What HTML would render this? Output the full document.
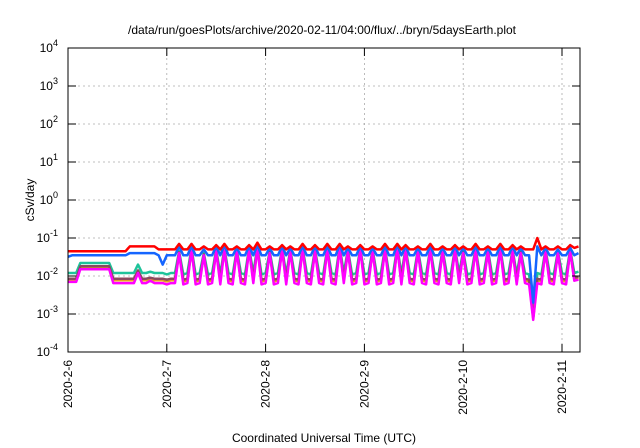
<!DOCTYPE html>
<html><head><meta charset="utf-8"><style>
body{margin:0;background:#fff;}
svg{display:block;font-family:"Liberation Sans",sans-serif;}
</style></head><body>
<svg id="chart" width="640" height="448" viewBox="0 0 640 448">
<text x="322" y="34" font-size="12" text-anchor="middle">/data/run/goesPlots/archive/2020-02-11/04:00/flux/../bryn/5daysEarth.plot</text>
<text transform="translate(34,200) rotate(-90)" font-size="12" text-anchor="middle">cSv/day</text>
<text x="324" y="442" font-size="12" text-anchor="middle">Coordinated Universal Time (UTC)</text>
<g id="grid"></g><g id="series"></g><g id="axes"></g>
</svg>
<script>
const yTickExps=[4,3,2,1,0,-1,-2,-3,-4];
const xTickLabels=["2020-2-6","2020-2-7","2020-2-8","2020-2-9","2020-2-10","2020-2-11"];
const stepDays=1/24;
const seriesRed=[.045,.045,.045,.045,.045,.045,.045,.045,.045,.045,
.045,.045,.045,.045,.045,.06,.06,.06,.06,.06,
.06,.06,.05,.05,.05,.05,.05,.07,.05,.05,
.07,.05,.05,.06,.05,.05,.065,.05,.07,.05,
.05,.06,.05,.05,.065,.05,.075,.05,.05,.06,
.05,.05,.065,.05,.06,.05,.05,.07,.05,.05,
.065,.05,.05,.07,.05,.05,.07,.05,.06,.05,
.05,.065,.05,.05,.06,.05,.05,.07,.05,.05,
.07,.05,.065,.05,.05,.06,.05,.05,.07,.05,
.05,.06,.05,.05,.065,.05,.06,.05,.05,.07,
.05,.05,.06,.05,.05,.07,.05,.05,.065,.05,
.06,.05,.05,.05,.1,.05,.06,.05,.05,.06,
.05,.05,.065,.055,.06];
const seriesBlue=[.032,.035,.035,.035,.035,.035,.035,.035,.035,.035,
.035,.035,.035,.035,.035,.04,.04,.04,.04,.04,
.04,.04,.035,.02,.035,.035,.035,.06,.035,.035,
.06,.035,.035,.05,.035,.035,.06,.035,.065,.035,
.035,.055,.035,.035,.06,.035,.065,.035,.035,.055,
.035,.035,.06,.035,.055,.035,.035,.06,.035,.035,
.06,.035,.035,.06,.035,.035,.065,.035,.055,.035,
.035,.06,.035,.035,.055,.035,.035,.06,.035,.035,
.065,.035,.06,.035,.035,.055,.035,.035,.06,.035,
.035,.055,.035,.035,.06,.035,.055,.035,.035,.06,
.035,.035,.055,.035,.035,.06,.035,.035,.06,.035,
.055,.035,.035,.002,.06,.035,.055,.035,.035,.05,
.035,.035,.055,.035,.04];
const seriesGreen=[.012,.012,.012,.022,.022,.022,.022,.022,.022,.022,
.022,.012,.012,.012,.012,.012,.012,.02,.012,.012,
.013,.012,.012,.012,.011,.012,.012,.045,.011,.012,
.055,.011,.012,.04,.011,.012,.05,.011,.055,.012,
.011,.05,.012,.011,.055,.012,.06,.011,.012,.045,
.011,.012,.055,.011,.05,.012,.011,.055,.012,.011,
.05,.012,.011,.055,.012,.011,.06,.012,.05,.011,
.012,.055,.011,.012,.05,.011,.012,.055,.011,.012,
.06,.011,.055,.012,.011,.05,.012,.011,.055,.012,
.011,.05,.012,.011,.055,.012,.045,.011,.012,.055,
.011,.012,.05,.011,.012,.055,.011,.012,.05,.011,
.045,.012,.011,.001,.012,.011,.05,.012,.011,.045,
.012,.011,.05,.012,.013];
const seriesBrown=[.0085,.0085,.0085,.018,.018,.018,.018,.018,.018,.018,
.018,.0085,.0085,.0085,.0085,.0085,.0085,.014,.0085,.0085,
.009,.0085,.0085,.0085,.008,.0085,.0085,.042,.008,.0085,
.052,.008,.0085,.037,.008,.0085,.047,.008,.052,.0085,
.008,.047,.0085,.008,.052,.0085,.057,.008,.0085,.042,
.008,.0085,.052,.008,.047,.0085,.008,.052,.0085,.008,
.047,.0085,.008,.052,.0085,.008,.057,.0085,.047,.008,
.0085,.052,.008,.0085,.047,.008,.0085,.052,.008,.0085,
.057,.008,.052,.0085,.008,.047,.0085,.008,.052,.0085,
.008,.047,.0085,.008,.052,.0085,.042,.008,.0085,.052,
.008,.0085,.047,.008,.0085,.052,.008,.0085,.047,.008,
.042,.0085,.008,.0008,.0085,.008,.047,.0085,.008,.042,
.0085,.008,.047,.009,.0095];
const seriesOrange=[.0077,.0077,.0077,.016,.016,.016,.016,.016,.016,.016,
.016,.0077,.0077,.0077,.0077,.0077,.0077,.013,.0077,.0077,
.008,.0077,.0077,.0077,.0072,.0077,.0077,.04,.0072,.0077,
.05,.0072,.0077,.035,.0072,.0077,.045,.0072,.05,.0077,
.0072,.045,.0077,.0072,.05,.0077,.055,.0072,.0077,.04,
.0072,.0077,.05,.0072,.045,.0077,.0072,.05,.0077,.0072,
.045,.0077,.0072,.05,.0077,.0072,.055,.0077,.045,.0072,
.0077,.05,.0072,.0077,.045,.0072,.0077,.05,.0072,.0077,
.055,.0072,.05,.0077,.0072,.045,.0077,.0072,.05,.0077,
.0072,.045,.0077,.0072,.05,.0077,.04,.0072,.0077,.05,
.0072,.0077,.045,.0072,.0077,.05,.0072,.0077,.045,.0072,
.04,.0077,.0072,.0008,.0077,.0072,.045,.0077,.0072,.04,
.0077,.0072,.045,.0082,.0088];
const seriesMagenta=[.007,.007,.007,.015,.015,.015,.015,.015,.015,.015,
.015,.0065,.0065,.0065,.0065,.0065,.0065,.012,.0065,.0065,
.0075,.0065,.0065,.0065,.006,.0065,.0065,.04,.006,.0065,
.05,.006,.0065,.035,.006,.0065,.045,.006,.05,.0065,
.006,.045,.0065,.006,.05,.0065,.055,.006,.0065,.04,
.006,.0065,.05,.006,.045,.0065,.006,.05,.0065,.006,
.045,.0065,.006,.05,.0065,.006,.055,.0065,.045,.006,
.0065,.05,.006,.0065,.045,.006,.0065,.05,.006,.0065,
.055,.006,.05,.0065,.006,.045,.0065,.006,.05,.0065,
.006,.045,.0065,.006,.05,.0065,.04,.006,.0065,.05,
.006,.0065,.045,.006,.0065,.05,.006,.0065,.045,.006,
.04,.0065,.006,.0007,.0065,.006,.045,.0065,.006,.04,
.0065,.006,.045,.0075,.008];
const L=68,R=580,T=48,B=352,dayPx=98.8,spanDays=(R-L)/dayPx;
const NS="http://www.w3.org/2000/svg";
function xs(d){return L+d*dayPx;}
function ys(v){return B-(Math.log10(v)+4)*(B-T)/8;}
function mk(tag,attrs,parent){const e=document.createElementNS(NS,tag);for(const k in attrs)e.setAttribute(k,attrs[k]);parent.appendChild(e);return e;}
const grid=document.getElementById('grid'),axes=document.getElementById('axes'),ser=document.getElementById('series');
yTickExps.forEach(ex=>{
  const y=ys(Math.pow(10,ex));
  if(ex>-4&&ex<4){const g=mk('line',{x1:L,x2:R,y1:y,y2:y,stroke:'#aaa','stroke-width':0.8,'stroke-dasharray':'2,3'},grid);
  
  }
  mk('line',{x1:L,x2:L+8,y1:y,y2:y,stroke:'#000'},axes);
  mk('line',{x1:R-8,x2:R,y1:y,y2:y,stroke:'#000'},axes);
  const t=mk('text',{x:58,y:y+4,'font-size':12,'text-anchor':'end'},axes);
  
  
  t.innerHTML='10<tspan dy="-6" font-size="9">'+ex+'</tspan>';
});
xTickLabels.forEach((lab,i)=>{
  const x=xs(i);
  if(i>0){const g=mk('line',{x1:x,x2:x,y1:T,y2:B,stroke:'#aaa','stroke-width':0.8,'stroke-dasharray':'2,3'},grid);
  
  }
  mk('line',{x1:x,x2:x,y1:B,y2:B-8,stroke:'#000'},axes);
  mk('line',{x1:x,x2:x,y1:T,y2:T+8,stroke:'#000'},axes);
  const t=mk('text',{transform:'translate('+(x+4)+','+(B+8)+') rotate(-90)','font-size':12,'text-anchor':'end'},axes);
  t.textContent=lab;
  
  
});
const frame=mk('rect',{x:L,y:T,width:R-L,height:B-T,fill:'none',stroke:'#000','stroke-width':1},axes);


const list=[[seriesGreen,'#1ec39a','series-green'],[seriesOrange,'#e8a020','series-orange'],[seriesBrown,'#8a4a5e','series-brown'],[seriesMagenta,'#ff00ff','series-magenta'],[seriesBlue,'#1565ff','series-blue'],[seriesRed,'#ff0000','series-red']];
list.forEach(([arr,col,name])=>{
  const pts=arr.map((v,i)=>xs(Math.min(i*stepDays,spanDays)).toFixed(1)+','+ys(v).toFixed(1)).join(' ');
  const p=mk('polyline',{points:pts,fill:'none',stroke:col,'stroke-width':2.5,'stroke-linejoin':'round'},ser);
  
  
});
</script>
</body></html>
